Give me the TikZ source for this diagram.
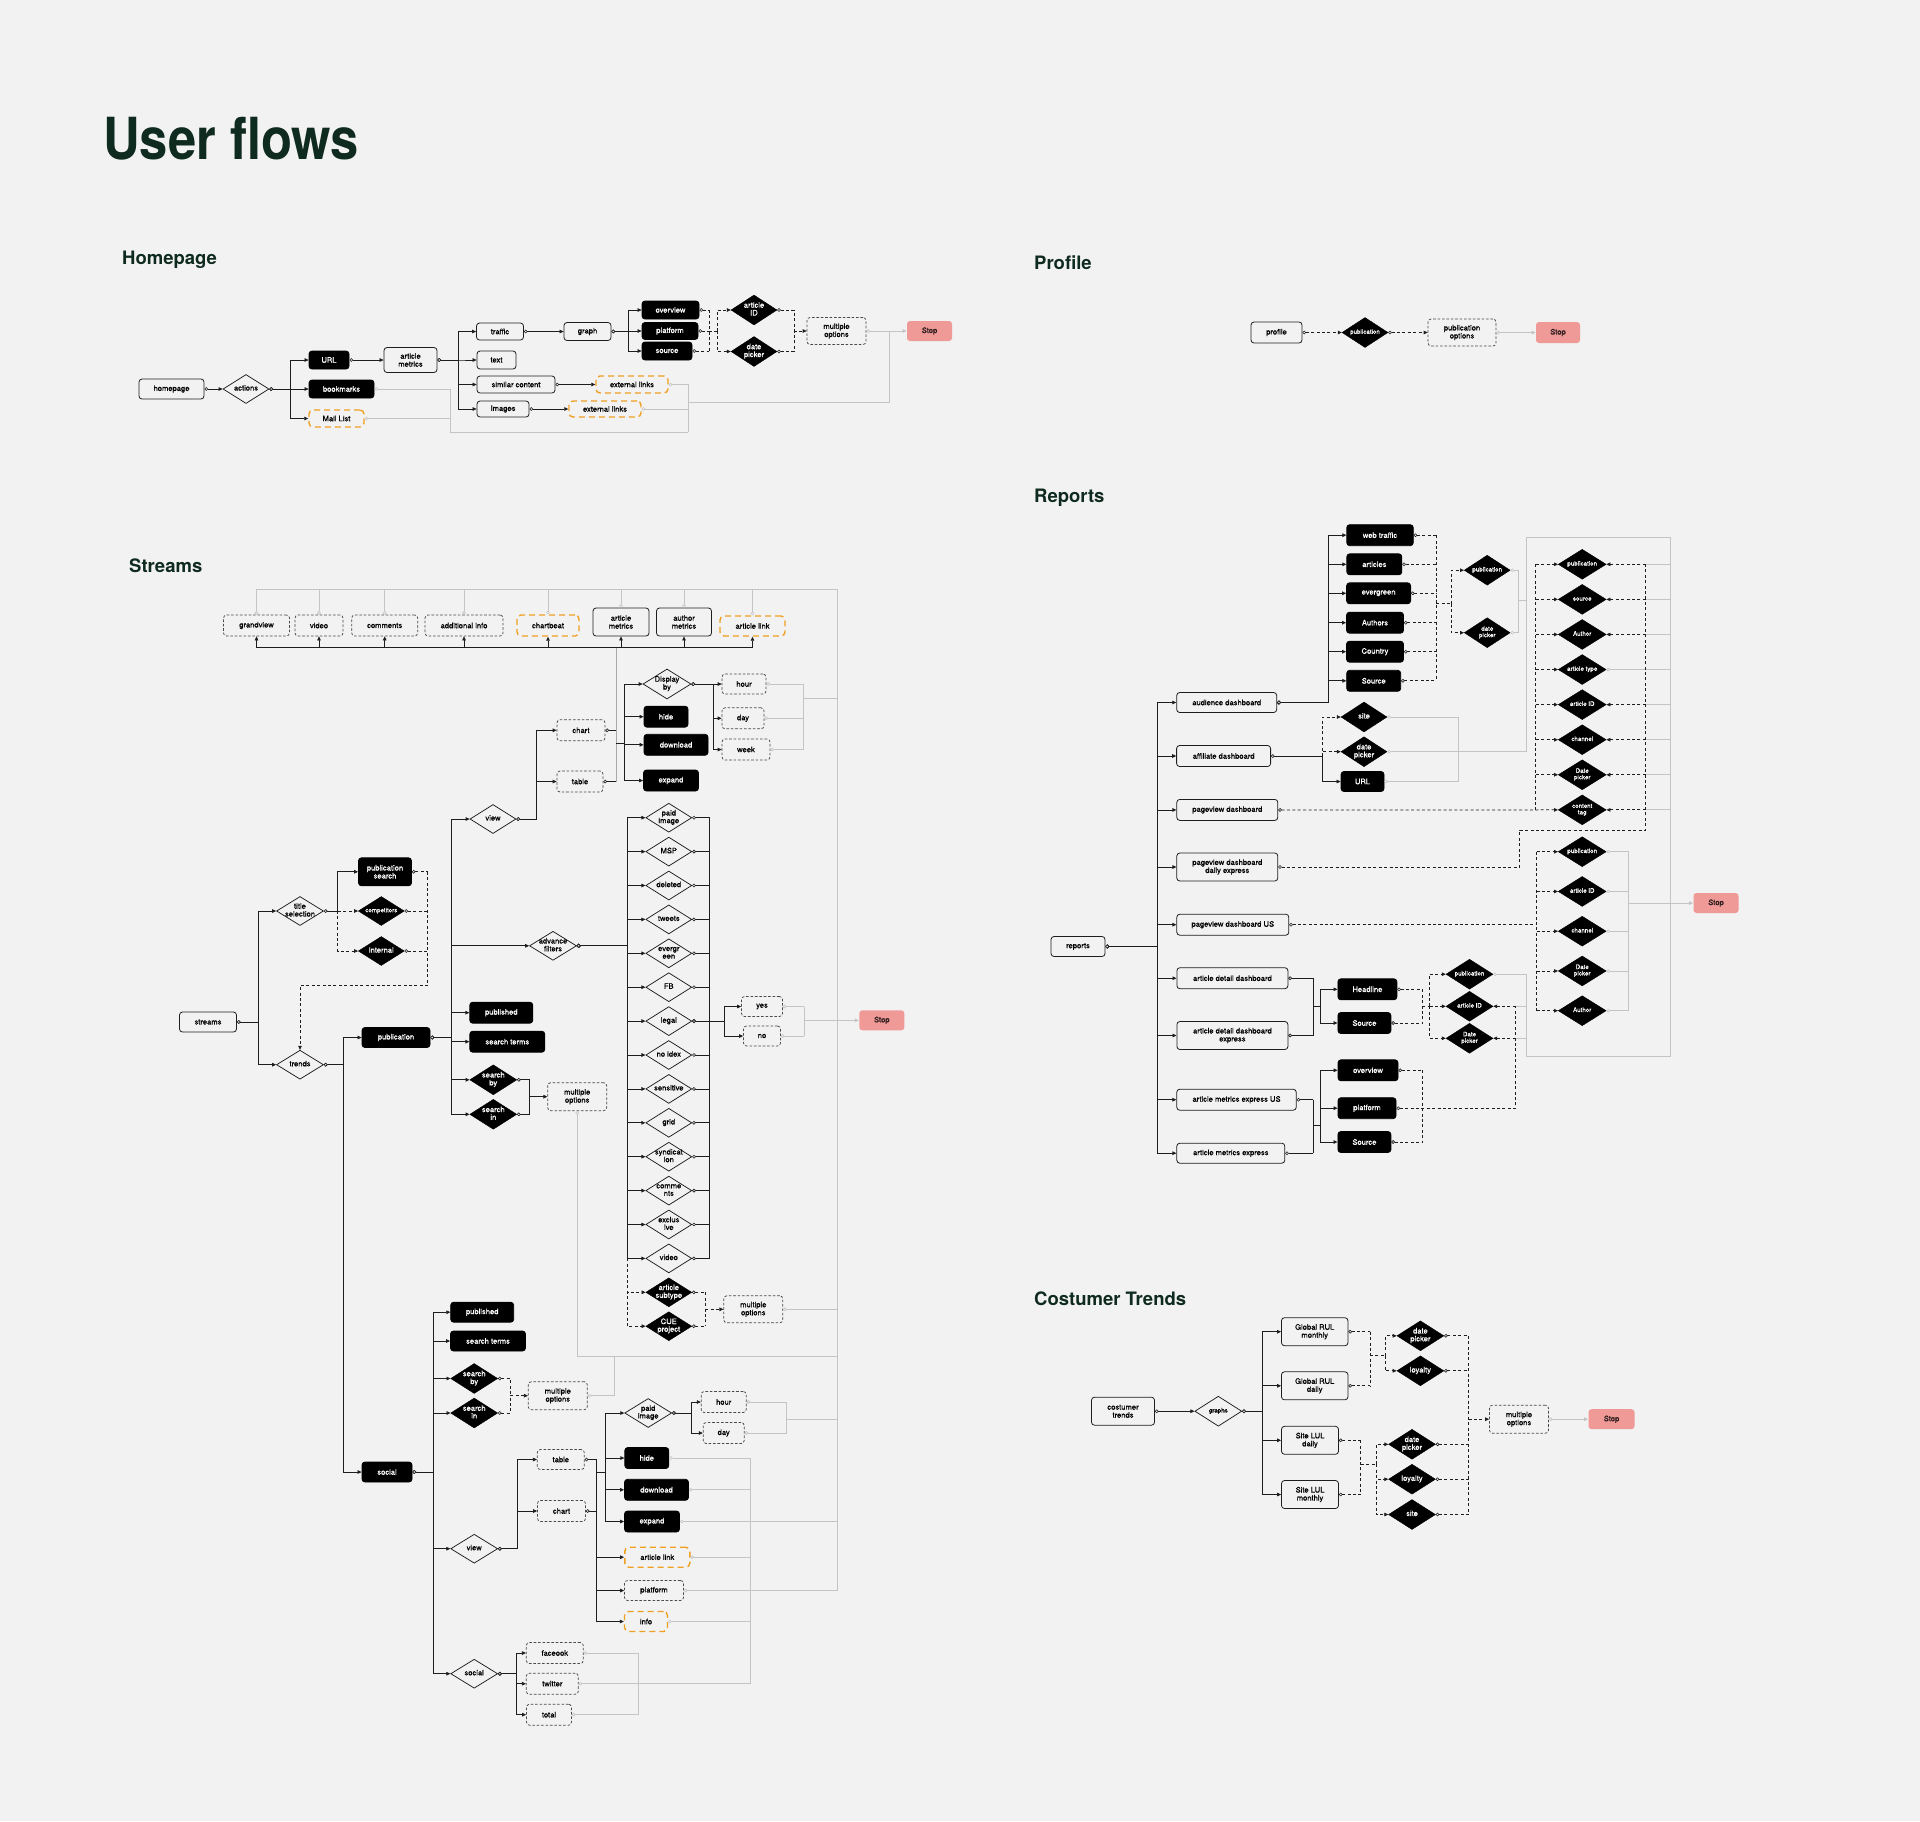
\documentclass[tikz,border=0pt]{standalone}
\usepackage{fontspec}
\setmainfont{TeX Gyre Heros}
\newfontfamily\nodefam{TeX Gyre Heros}[FakeBold=0.5]
\usepackage{graphicx}
\usetikzlibrary{arrows.meta,shapes.geometric}
\definecolor{bg}{HTML}{F2F2F2}
\definecolor{lk}{HTML}{1E1E1E}
\definecolor{gr}{HTML}{C4C4C4}
\definecolor{midg}{HTML}{A8A8A8}
\definecolor{dbd}{HTML}{4A4A4A}
\definecolor{org}{HTML}{F0A020}
\definecolor{stopc}{HTML}{F09A98}
\definecolor{stoptx}{HTML}{2A1A1A}
\definecolor{ttl}{HTML}{0F2A1F}
\newcommand\fn{\nodefam\fontsize{7.6}{8}\selectfont}
\newcommand\fsm{\nodefam\fontsize{6.2}{6.8}\selectfont}
\newcommand\dt[1]{\makebox[0pt]{\begin{tabular}{@{}c@{}}#1\end{tabular}}}
\renewcommand\arraystretch{0.95}
\tikzset{
  base/.style={rounded corners=3pt, inner sep=0.5pt, align=center, font=\fn, line width=0.8pt},
  wbox/.style={base, draw=lk, fill=bg},
  bbox/.style={base, draw=black, fill=black, text=white},
  dbox/.style={base, draw=dbd, fill=bg, line width=0.75pt, dash pattern=on 2.6pt off 1.8pt},
  obox/.style={base, draw=org, fill=bg, line width=1.4pt, dash pattern=on 6pt off 4pt, rounded corners=4pt},
  stopbox/.style={base, draw=none, fill=stopc, text=stoptx, minimum width=45pt, minimum height=20pt},
  wdia/.style={diamond, draw=lk, fill=bg, line width=0.75pt, inner sep=0pt, font=\fn},
  bdia/.style={diamond, draw=black, fill=black, text=white, inner sep=0pt, font=\fn},
  sz/.style 2 args={minimum width=#1pt, minimum height=#2pt},
  dsz/.style={sz={46}{29}},
  ln/.style={draw=lk, line width=0.75pt},
  dl/.style={draw=lk, line width=0.75pt, dash pattern=on 3pt off 2.4pt},
  gl/.style={draw=gr, line width=0.85pt},
  both/.style={{Circle[length=3.6pt,width=3.6pt,line width=0.6pt,fill=bg]}-{Triangle[length=4pt,width=3.6pt]}},
  beg/.style={{Circle[length=3.6pt,width=3.6pt,line width=0.6pt,fill=bg]}-},
  tip/.style={-{Triangle[length=4pt,width=3.6pt]}},
  head/.style={anchor=base west, font=\fontsize{18.5}{20}\selectfont\bfseries, text=ttl, inner sep=0pt},
}
\begin{document}
\begin{tikzpicture}[x=1pt,y=-1pt]
\fill[bg] (0,0) rectangle (1920,1821);
\useasboundingbox (0,0) rectangle (1920,1821);

% ---------- titles
\node[anchor=base west, inner sep=0pt, text=ttl, font=\fontsize{58}{60}\selectfont\bfseries] (title) at (103,159) {\scalebox{0.875}[1]{User flows}};
\node[head] (hHome) at (122,264) {Homepage};
\node[head] (hProf) at (1034,269) {Profile};
\node[head] (hRep) at (1034,502) {Reports};
\node[head] (hStr) at (129,572) {Streams};
\node[head] (hCT) at (1034,1305) {Costumer Trends};

% ================= HOMEPAGE
\node[wbox,sz={65}{20}] (home) at (171.5,389) {homepage};
\node[wdia,dsz] (act) at (246,389) {\dt{actions}};
\node[bbox,sz={40}{18}] (url) at (329,360) {URL};
\node[bbox,sz={65}{18}] (bkm) at (341.5,389) {bookmarks};
\node[obox,sz={55}{17}] (mail) at (336.5,418.5) {Mail List};
\node[wbox,sz={53}{25}] (am) at (410.5,360) {article\\metrics};
\node[wbox,sz={47}{17}] (traf) at (500,331.5) {traffic};
\node[wbox,sz={39}{18}] (txt) at (496.5,360) {text};
\node[wbox,sz={78}{17}] (sim) at (516,384.5) {similar content};
\node[wbox,sz={52}{16}] (img) at (503,409) {Images};
\node[wbox,sz={47}{18}] (graph) at (587.5,331.5) {graph};
\node[bbox,sz={57}{18}] (ov) at (670.5,310) {overview};
\node[bbox,sz={56}{17}] (pf) at (670,331) {platform};
\node[bbox,sz={50}{18}] (src) at (667,351) {source};
\node[bdia,sz={46}{30}] (aid) at (754,310) {\dt{article\\ID}};
\node[bdia,sz={46}{30}] (dp) at (754,351.5) {\dt{date\\picker}};
\node[dbox,sz={59}{27}] (mo) at (836.5,331) {multiple\\options};
\node[stopbox] (stop1) at (929.5,331) {Stop};
\node[obox,sz={72}{17}] (ext1) at (632,384.5) {external links};
\node[obox,sz={72}{16}] (ext2) at (605,409) {external links};

\coordinate (hA) at (290,0);
\coordinate (hB) at (458,0);
\coordinate (hC) at (628,0);
\coordinate (hD) at (709,331);
\coordinate (hE) at (717,331);
\coordinate (hF) at (794,331);
\coordinate (hG) at (688,432);
\coordinate (hH) at (450,432);
\coordinate (hI) at (889,402);

\draw[gl,beg] (ext1.east) -| (hG);
\draw[gl,beg] (ext2.east) -- (ext2.east -| hG);
\draw[gl] (hG) -- (hH);
\draw[gl,beg] (bkm.east) -| (hH);
\draw[gl,beg] (mail.east) -- (mail.east -| hH);
\draw[gl] (hI -| hG) -- (hI) -- (hI |- mo.east);
\draw[gl,both] (mo.east) -- (stop1.west);

\draw[ln,both] (home.east) -- (act.west);
\draw[ln,both] (act.east) -- (act.east -| hA) |- (url.west);
\draw[ln,both] (act.east) -- (bkm.west);
\draw[ln,both] (act.east) -- (act.east -| hA) |- (mail.west);
\draw[ln,both] (url.east) -- (am.west);
\foreach \x in {traf,txt,sim,img} \draw[ln,both] (am.east) -- (am.east -| hB) |- (\x.west);
\draw[ln,both] (traf.east) -- (graph.west);
\foreach \x in {ov,pf,src} \draw[ln,both] (graph.east) -- (graph.east -| hC) |- (\x.west);
\foreach \x in {ov,pf,src} \draw[dl,beg] (\x.east) -- (\x.east -| hD);
\draw[dl] (ov.east -| hD) -- (src.east -| hD);
\draw[dl] (hD) -- (hE);
\foreach \x in {aid,dp} \draw[dl,tip] (hE) |- (\x.west);
\foreach \x in {aid,dp} \draw[dl,beg] (\x.east) -| (hF);
\draw[dl,tip] (hF) -- (mo.west);
\draw[ln,both] (sim.east) -- (ext1.west);
\draw[ln,both] (img.east) -- (ext2.west);

% ================= PROFILE
\node[wbox,sz={51}{21}] (prof) at (1276.5,332.5) {profile};
\node[bdia,sz={46}{30},font=\fsm] (ppub) at (1365,332.5) {\dt{publication}};
\node[dbox,sz={68}{27}] (popt) at (1462,332.5) {publication\\options};
\node[stopbox,sz={44}{21}] (stop2) at (1558,332.5) {Stop};
\draw[dl,both] (prof.east) -- (ppub.west);
\draw[dl,both] (ppub.east) -- (popt.west);
\draw[gl,both] (popt.east) -- (stop2.west);

% ================= STREAMS : top row
\node[dbox,sz={66}{21}] (gv) at (256.5,625.5) {grandview};
\node[dbox,sz={48}{21}] (vid) at (319,625.5) {video};
\node[dbox,sz={66}{21}] (com) at (384.7,625.5) {comments};
\node[dbox,sz={78}{21}] (ai) at (464,625.5) {additional info};
\node[obox,sz={62}{21}] (cb) at (548,625.5) {chartbeat};
\node[wbox,sz={56}{28}] (sam) at (621,622) {article\\metrics};
\node[wbox,sz={55}{28}] (aum) at (684,622) {author\\metrics};
\node[obox,sz={65}{20}] (al) at (752.5,626) {article link};

% chart / table block
\node[dbox,sz={48}{21}] (chart) at (581,730.3) {chart};
\node[dbox,sz={46}{21}] (tab) at (580,781.5) {table};
\node[wdia,dsz] (view1) at (493,819) {\dt{view}};
\node[wdia,sz={48}{30}] (dby) at (667,684) {\dt{Display\\by}};
\node[bbox,sz={44}{21}] (hide1) at (666,716.7) {hide};
\node[bbox,sz={64}{21}] (dl1) at (676,744.8) {download};
\node[bbox,sz={55}{21}] (exp1) at (671,780.5) {expand};
\node[dbox,sz={44}{20}] (hour1) at (744,684) {hour};
\node[dbox,sz={42}{21}] (day1) at (743,718.3) {day};
\node[dbox,sz={48}{21}] (week1) at (746,749.5) {week};

% left part
\node[wbox,sz={57}{20}] (streams) at (208,1022) {streams};
\node[wdia,sz={47}{29}] (tsel) at (300,911) {\dt{title\\selection}};
\node[wdia,sz={47}{29}] (trends) at (300,1064.7) {\dt{trends}};
\node[bbox,sz={53}{28}] (psearch) at (385,871.8) {publication\\search};
\node[bdia,dsz,font=\fsm] (comp) at (381.3,911) {\dt{competitors}};
\node[bdia,dsz] (intl) at (381.3,951) {\dt{internal}};
\node[bbox,sz={68}{20}] (pubs) at (396,1037.5) {publication};
\node[wdia,sz={47}{29}] (af) at (553,945.8) {\dt{advance\\filters}};
\node[bbox,sz={63}{21}] (pub1) at (501.3,1012.7) {published};
\node[bbox,sz={75}{21}] (st1) at (507.3,1041.7) {search terms};
\node[bdia,sz={47}{30}] (sby1) at (493.3,1079.8) {\dt{search\\by}};
\node[bdia,sz={47}{30}] (sin1) at (493.3,1114.3) {\dt{search\\in}};
\node[dbox,sz={59}{28}] (mo2) at (577.2,1096.7) {multiple\\options};

% filter column
\foreach \lab [count=\i from 0] in {{paid\\image},MSP,deleted,tweets,{evergr\\een},FB,legal,{no idex},sensitive,grid,{syndicat\\ion},{comme\\nts},{exclus\\ive},video}
  \node[wdia,dsz] (f\i) at (668.8,817.7+33.9*\i) {\dt{\lab}};
\node[bdia,dsz] (f14) at (668.8,1292.3) {\dt{article\\subtype}};
\node[bdia,dsz] (f15) at (668.8,1326.2) {\dt{CUE\\project}};
\node[dbox,sz={59}{27}] (mo3) at (753.3,1309.3) {multiple\\options};
\node[dbox,sz={41}{20}] (yes) at (762,1006.5) {yes};
\node[dbox,sz={37}{20}] (no) at (762,1036) {no};
\node[stopbox] (stop3) at (881.8,1020.3) {Stop};

% social part
\node[bbox,sz={50}{20}] (soc) at (387,1472) {social};
\node[bbox,sz={63}{20}] (pub2) at (482.2,1312.2) {published};
\node[bbox,sz={75}{20}] (st2) at (488,1341) {search terms};
\node[bdia,sz={47}{30}] (sby2) at (474.2,1378.5) {\dt{search\\by}};
\node[bdia,sz={47}{30}] (sin2) at (474.2,1413) {\dt{search\\in}};
\node[dbox,sz={59}{28}] (mo4) at (557.8,1395.7) {multiple\\options};
\node[wdia,sz={47}{29}] (view2) at (474.2,1548.7) {\dt{view}};
\node[wdia,sz={47}{29}] (socd) at (474.2,1673.7) {\dt{social}};
\node[dbox,sz={47}{20}] (tab2) at (560.8,1459.5) {table};
\node[dbox,sz={48}{21}] (chart2) at (561.5,1511) {chart};
\node[wdia,sz={47}{29}] (pi2) at (648.2,1413) {\dt{paid\\image}};
\node[dbox,sz={45}{21}] (hour2) at (723.7,1402) {hour};
\node[dbox,sz={41}{21}] (day2) at (723.7,1433) {day};
\node[bbox,sz={44}{21}] (hide2) at (646.8,1458) {hide};
\node[bbox,sz={64}{21}] (dl2) at (656.5,1489.8) {download};
\node[bbox,sz={55}{21}] (exp2) at (652,1521.5) {expand};
\node[obox,sz={65}{20}] (al2) at (657.3,1557.2) {article link};
\node[dbox,sz={59}{20}] (pf2) at (654,1590.5) {platform};
\node[obox,sz={43}{20}] (info) at (646,1621.5) {info};
\node[dbox,sz={57}{21}] (fb) at (554.8,1653) {faceook};
\node[dbox,sz={52}{21}] (tw) at (552.3,1683.7) {twitter};
\node[dbox,sz={45}{21}] (tot) at (549,1714.7) {total};

% streams coordinates
\coordinate (gT) at (0,589.3);
\coordinate (gR) at (837,589.3);
\coordinate (gS) at (0,1356.3);
\coordinate (sB) at (616,647.7);
\coordinate (sJ) at (616,743.7);
\coordinate (sK) at (624,743.7);
\coordinate (sV) at (536.7,0);
\coordinate (sD) at (713,0);
\coordinate (sG) at (803,698);
\coordinate (lA) at (258.3,0);
\coordinate (lB) at (337.7,0);
\coordinate (lC) at (427.7,985.7);
\coordinate (lD) at (343.7,0);
\coordinate (lE) at (451,0);
\coordinate (lF) at (529.7,1096.7);
\coordinate (fL) at (627,0);
\coordinate (fR) at (709.7,0);
\coordinate (fY) at (724,0);
\coordinate (fM) at (705.3,0);
\coordinate (fG) at (804.3,0);
\coordinate (oA) at (433.3,0);
\coordinate (oB) at (510.3,1395.7);
\coordinate (oC) at (614.3,0);
\coordinate (oD) at (517.3,0);
\coordinate (oE) at (596.7,1472.7);
\coordinate (oF) at (605.3,1472.7);
\coordinate (oG) at (691,0);
\coordinate (oH) at (786.7,1419.7);
\coordinate (oI) at (750.3,0);
\coordinate (oJ) at (516.7,0);
\coordinate (oK) at (638,0);

% gray lines streams
\foreach \x in {gv,vid,com,ai,cb,sam,aum,al} \draw[gl,beg] (\x.north) -- (\x.north |- gT);
\draw[gl] (gv.north |- gT) -- (gR) -- (gR |- pf2.east);
\foreach \x in {hour1,day1,week1} \draw[gl,beg] (\x.east) -- (\x.east -| sG);
\draw[gl] (hour1.east -| sG) -- (week1.east -| sG);
\draw[gl] (sG) -- (sG -| gR);
\draw[gl,beg] (mo2.south) -- (mo2.south |- gS) -- (gS -| gR);
\draw[gl,beg] (mo3.east) -- (mo3.east -| gR);
\foreach \x in {yes,no} \draw[gl,beg] (\x.east) -- (\x.east -| fG);
\draw[gl] (yes.east -| fG) -- (no.east -| fG);
\draw[gl,tip] (stop3.west -| fG) -- (stop3.west);
\draw[gl,beg] (mo4.east) -- (mo4.east -| oC) -- (oC |- gS);
\foreach \x in {hour2,day2} \draw[gl,beg] (\x.east) -- (\x.east -| oH);
\draw[gl] (hour2.east -| oH) -- (day2.east -| oH);
\draw[gl] (oH) -- (oH -| gR);
\foreach \x in {hide2,dl2,al2,info,tw} \draw[gl,beg] (\x.east) -- (\x.east -| oI);
\draw[gl] (hide2.east -| oI) -- (tw.east -| oI);
\draw[gl,beg] (exp2.east) -- (exp2.east -| gR);
\draw[gl,beg] (pf2.east) -- (pf2.east -| gR);
\foreach \x in {fb,tot} \draw[gl,beg] (\x.east) -- (\x.east -| oK);
\draw[gl] (fb.east -| oK) -- (tot.east -| oK);

% black lines streams
\foreach \x in {gv,vid,com,ai,cb,sam,aum,al} \draw[ln,tip] (sB) -| (\x.south);
\draw[ln,beg] (chart.east) -- (chart.east -| sB);
\draw[ln,beg] (tab.east) -- (tab.east -| sB);
\draw[draw=midg,line width=0.75pt] (tab.east -| sB) -- (sB);
\draw[ln] (sJ) -- (sK);
\foreach \x in {dby,hide1,dl1,exp1} \draw[ln,tip] (sK) |- (\x.west);
\foreach \x in {chart,tab} \draw[ln,both] (view1.east) -- (view1.east -| sV) |- (\x.west);
\foreach \x in {hour1,day1,week1} \draw[ln,both] (dby.east) -- (dby.east -| sD) |- (\x.west);

\foreach \x in {tsel,trends} \draw[ln,both] (streams.east) -- (streams.east -| lA) |- (\x.west);
\draw[ln,both] (tsel.east) -- (tsel.east -| lB) |- (psearch.west);
\draw[dl,tip] (tsel.east -| lB) -- (comp.west);
\draw[dl,tip] (tsel.east -| lB) |- (intl.west);
\foreach \x in {psearch,comp,intl} \draw[dl,beg] (\x.east) -- (\x.east -| lC);
\draw[dl,tip] (psearch.east -| lC) -- (lC) -| (trends.north);
\draw[ln,both] (trends.east) -- (trends.east -| lD) |- (pubs.west);
\draw[ln,both] (trends.east) -- (trends.east -| lD) |- (soc.west);
\foreach \x in {view1,af,pub1,st1,sby1,sin1} \draw[ln,both] (pubs.east) -- (pubs.east -| lE) |- (\x.west);
\foreach \x in {sby1,sin1} \draw[ln,beg] (\x.east) -| (lF);
\draw[ln,tip] (lF) -- (mo2.west);

\foreach \i in {0,...,13} {
  \draw[ln,both] (af.east) -- (af.east -| fL) |- (f\i.west);
  \draw[ln,beg] (f\i.east) -- (f\i.east -| fR);
}
\draw[ln] (f0.east -| fR) -- (f13.east -| fR);
\draw[dl,tip] (f13.west -| fL) |- (f14.west);
\draw[dl,tip] (f13.west -| fL) |- (f15.west);
\foreach \x in {f14,f15} \draw[dl,beg] (\x.east) -- (\x.east -| fM);
\draw[dl] (f14.east -| fM) -- (f15.east -| fM);
\draw[dl,tip] (mo3.west -| fM) -- (mo3.west);
\draw[ln,both] (f6.east) -- (f6.east -| fY) |- (yes.west);
\draw[ln,both] (f6.east) -- (f6.east -| fY) |- (no.west);

\foreach \x in {pub2,st2,sby2,sin2,view2,socd} \draw[ln,both] (soc.east) -- (soc.east -| oA) |- (\x.west);
\foreach \x in {sby2,sin2} \draw[dl,beg] (\x.east) -| (oB);
\draw[dl,tip] (oB) -- (mo4.west);
\foreach \x in {tab2,chart2} \draw[ln,both] (view2.east) -- (view2.east -| oD) |- (\x.west);
\foreach \x in {tab2,chart2} \draw[ln,beg] (\x.east) -- (\x.east -| oE);
\draw[ln] (tab2.east -| oE) -- (info.west -| oE);
\draw[ln] (oE) -- (oF);
\foreach \x in {pi2,hide2,dl2,exp2} \draw[ln,tip] (oF) |- (\x.west);
\foreach \x in {al2,pf2,info} \draw[ln,tip] (oE) |- (\x.west);
\foreach \x in {hour2,day2} \draw[ln,both] (pi2.east) -- (pi2.east -| oG) |- (\x.west);
\foreach \x in {fb,tw,tot} \draw[ln,both] (socd.east) -- (socd.east -| oJ) |- (\x.west);

% ================= REPORTS
\node[wbox,sz={54}{20}] (rep) at (1078,946.5) {reports};
\node[wbox,sz={100}{20}] (aud) at (1226.7,702.5) {audience dashboard};
\node[wbox,sz={94}{21}] (aff) at (1223.6,756) {affiliate dashboard};
\node[wbox,sz={101}{21}] (pvd) at (1227.3,809.9) {pageview dashboard};
\node[wbox,sz={101}{28}] (pvde) at (1227.3,867) {pageview dashboard\\daily express};
\node[wbox,sz={112}{21}] (pvus) at (1232.8,924.7) {pageview dashboard US};
\node[wbox,sz={111}{21}] (add) at (1232.4,978.2) {article detail dashboard};
\node[wbox,sz={111}{28}] (adde) at (1232.4,1035.5) {article detail dashboard\\express};
\node[wbox,sz={119.5}{21}] (ameu) at (1236.5,1099.7) {article metrics express US};
\node[wbox,sz={108}{20}] (ame) at (1230.8,1153.2) {article metrics express};

\node[bbox,sz={66.5}{21}] (wt) at (1380,535.2) {web traffic};
\node[bbox,sz={55}{21}] (arts) at (1374.3,564.3) {articles};
\node[bbox,sz={64}{21}] (evg) at (1378.6,593.3) {evergreen};
\node[bbox,sz={57}{21}] (auth) at (1375,622.7) {Authors};
\node[bbox,sz={57}{21}] (ctry) at (1375,651.7) {Country};
\node[bbox,sz={54}{21}] (srcr) at (1373.7,680.8) {Source};
\node[bdia,sz={46}{30},font=\fsm] (rpub) at (1487.2,570.2) {\dt{publication}};
\node[bdia,sz={46}{30},font=\fsm] (rdp) at (1487.2,632.7) {\dt{date\\picker}};

\node[bdia,sz={46}{30}] (site) at (1364,717) {\dt{site}};
\node[bdia,sz={46}{30}] (adp) at (1364,751.7) {\dt{date\\picker}};
\node[bbox,sz={43}{20}] (rurl) at (1362.5,781.5) {URL};

\foreach \lab [count=\i from 0] in {publication,source,Author,{article type},{article ID},channel,{Date\\picker},{content\\tag}}
  \node[bdia,sz={48}{30},font=\fsm] (u\i) at (1582.2,564.3+35.08*\i) {\dt{\lab}};
\foreach \lab [count=\i from 0] in {publication,{article ID},channel,{Date\\picker},Author}
  \node[bdia,sz={48}{30},font=\fsm] (l\i) at (1582.2,851.7+39.75*\i) {\dt{\lab}};
\node[stopbox] (stop4) at (1716,903) {Stop};

\node[bbox,sz={59}{21}] (hl) at (1367.4,989.3) {Headline};
\node[bbox,sz={53}{21}] (asrc) at (1364.4,1023) {Source};
\node[bdia,sz={47}{30},font=\fsm] (apub) at (1469.5,974.2) {\dt{publication}};
\node[bdia,sz={47}{30},font=\fsm] (aaid) at (1469.5,1006.3) {\dt{article ID}};
\node[bdia,sz={47}{30},font=\fsm] (adpk) at (1469.5,1038.3) {\dt{Date\\picker}};
\node[bbox,sz={60}{21}] (ov3) at (1368,1070.3) {overview};
\node[bbox,sz={58}{21}] (pf3) at (1367,1108.2) {platform};
\node[bbox,sz={53}{21}] (src3) at (1364.4,1142) {Source};

\coordinate (rA) at (1157.5,0);
\coordinate (rB) at (1328.5,0);
\coordinate (rC) at (1436.2,603.7);
\coordinate (rD) at (1451.3,603.7);
\coordinate (rE) at (1518.6,600.3);
\coordinate (rF) at (1526.5,600.3);
\coordinate (rX) at (1670.4,537.3);
\coordinate (rY) at (1670.4,1056.6);
\coordinate (rZ) at (1526.5,1056.6);
\coordinate (rG) at (1322.3,0);
\coordinate (rH) at (1458.2,0);
\coordinate (rU) at (1535.7,0);
\coordinate (rV) at (1645.7,829.9);
\coordinate (rW) at (1519.8,829.9);
\coordinate (rL) at (1536.5,0);
\coordinate (rM) at (1628.7,903);
\coordinate (rN) at (1313,1006.7);
\coordinate (rO) at (1320.3,1006.7);
\coordinate (rP) at (1422.3,1006.3);
\coordinate (rQ) at (1429.6,1006.3);
\coordinate (rS) at (1515.7,0);
\coordinate (rN2) at (1313,1125.7);
\coordinate (rO2) at (1320.3,1125.7);

% gray reports
\foreach \x in {rpub,rdp} \draw[gl,beg] (\x.east) -- (\x.east -| rE);
\draw[gl] (rpub.east -| rE) -- (rdp.east -| rE);
\draw[gl] (rE) -- (rF);
\draw[gl] (apub.east -| rF) -- (rZ) -- (rY) -- (rX) -- (rF |- rX) -- (adp.east -| rF);
\draw[gl,beg] (adp.east) -- (adp.east -| rF);
\foreach \x in {site,rurl} \draw[gl,beg] (\x.east) -- (\x.east -| rH);
\draw[gl] (site.east -| rH) -- (rurl.east -| rH);
\foreach \i in {0,1,2,4,5,6,7} \draw[gl] (u\i.east -| rV) -- (u\i.east -| rX);
\draw[gl,beg] (u3.east) -- (u3.east -| rX);
\foreach \i in {0,...,4} \draw[gl,beg] (l\i.east) -- (l\i.east -| rM);
\draw[gl] (l0.east -| rM) -- (l4.east -| rM);
\draw[gl,tip] (rM) -- (stop4.west);
\draw[gl,beg] (apub.east) -- (apub.east -| rF);
\foreach \x in {aaid,adpk} \draw[gl] (\x.east -| rS) -- (\x.east -| rF);

% black reports
\foreach \x in {aud,aff,pvd,pvde,pvus,add,adde,ameu,ame} \draw[ln,both] (rep.east) -- (rep.east -| rA) |- (\x.west);
\foreach \x in {wt,arts,evg,auth,ctry,srcr} \draw[ln,both] (aud.east) -- (aud.east -| rB) |- (\x.west);
\foreach \x in {wt,arts,evg,auth,ctry,srcr} \draw[dl,beg] (\x.east) -- (\x.east -| rC);
\draw[dl] (wt.east -| rC) -- (srcr.east -| rC);
\draw[dl] (rC) -- (rD);
\foreach \x in {rpub,rdp} \draw[dl,tip] (rD) |- (\x.west);
\draw[ln,both] (aff.east) -- (aff.east -| rG) |- (rurl.west);
\foreach \x in {site,adp} \draw[dl,tip] (aff.east -| rG) |- (\x.west);

\draw[dl,both] (pvd.east) -- (u7.west);
\draw[dl] (u0.west -| rU) -- (u7.west -| rU);
\foreach \i in {0,...,6} \draw[dl,tip] (u\i.west -| rU) -- (u\i.west);
\draw[dl,beg] (pvde.east) -- (pvde.east -| rW) -- (rW) -- (rV) -- (rV |- u0.east);
\foreach \i in {0,1,2,4,5,6,7} \draw[dl,tip] (u\i.east -| rV) -- (u\i.east);

\draw[dl,beg] (pvus.east) -- (pvus.east -| rL);
\draw[dl] (l0.west -| rL) -- (l4.west -| rL);
\foreach \i in {0,...,4} \draw[dl,tip] (l\i.west -| rL) -- (l\i.west);

\foreach \x in {add,adde} \draw[ln,beg] (\x.east) -- (\x.east -| rN);
\draw[ln] (add.east -| rN) -- (adde.east -| rN);
\draw[ln] (rN) -- (rO);
\foreach \x in {hl,asrc} \draw[ln,tip] (rO) |- (\x.west);
\foreach \x in {hl,asrc} \draw[dl,beg] (\x.east) -- (\x.east -| rP);
\draw[dl] (hl.east -| rP) -- (asrc.east -| rP);
\draw[dl] (rP) -- (rQ);
\foreach \x in {apub,aaid,adpk} \draw[dl,tip] (rQ) |- (\x.west);

\foreach \x in {ameu,ame} \draw[ln,beg] (\x.east) -- (\x.east -| rN2);
\draw[ln] (ameu.east -| rN2) -- (ame.east -| rN2);
\draw[ln] (rN2) -- (rO2);
\foreach \x in {ov3,pf3,src3} \draw[ln,tip] (rO2) |- (\x.west);
\foreach \x in {ov3,src3} \draw[dl,beg] (\x.east) -- (\x.east -| rP);
\draw[dl] (ov3.east -| rP) -- (src3.east -| rP);
\draw[dl,beg] (pf3.east) -- (pf3.east -| rS) -- (aaid.east -| rS);
\foreach \x in {aaid,adpk} \draw[dl,tip] (\x.east -| rS) -- (\x.east);

% ================= COSTUMER TRENDS
\node[wbox,sz={63}{28}] (ct) at (1123,1411.2) {costumer\\trends};
\node[wdia,sz={47}{30},font=\fsm] (gph) at (1218.3,1411.2) {\dt{graphs}};
\node[wbox,sz={66.5}{28}] (grm) at (1314.7,1331.7) {Global RUL\\monthly};
\node[wbox,sz={66.5}{28}] (grd) at (1314.7,1385.8) {Global RUL\\daily};
\node[wbox,sz={57}{28}] (sld) at (1310,1440.3) {Site LUL\\daily};
\node[wbox,sz={57}{28}] (slm) at (1310,1494.5) {Site LUL\\monthly};
\node[bdia,sz={47}{30}] (cdp1) at (1420.4,1335.8) {\dt{date\\picker}};
\node[bdia,sz={47}{30}] (cly1) at (1420.4,1370.8) {\dt{loyalty}};
\node[bdia,sz={47}{30}] (cdp2) at (1412,1444.3) {\dt{date\\picker}};
\node[bdia,sz={47}{30}] (cly2) at (1412,1479.2) {\dt{loyalty}};
\node[bdia,sz={47}{30}] (csite) at (1412,1514.5) {\dt{site}};
\node[dbox,sz={59}{28}] (mo5) at (1519,1419.2) {multiple\\options};
\node[stopbox,sz={46}{20}] (stop5) at (1611.5,1419.2) {Stop};

\coordinate (cA) at (1262.5,0);
\coordinate (cB) at (1370,1355.7);
\coordinate (cC) at (1385.1,1355.7);
\coordinate (cD) at (1360.7,1464.3);
\coordinate (cE) at (1376.2,1464.3);
\coordinate (cF) at (1468.5,0);

\draw[gl,both] (mo5.east) -- (stop5.west);
\draw[ln,both] (ct.east) -- (gph.west);
\foreach \x in {grm,grd,sld,slm} \draw[ln,both] (gph.east) -- (gph.east -| cA) |- (\x.west);
\foreach \x in {grm,grd} \draw[dl,beg] (\x.east) -- (\x.east -| cB);
\draw[dl] (grm.east -| cB) -- (grd.east -| cB);
\draw[dl] (cB) -- (cC);
\foreach \x in {cdp1,cly1} \draw[dl,tip] (cC) |- (\x.west);
\foreach \x in {sld,slm} \draw[dl,beg] (\x.east) -- (\x.east -| cD);
\draw[dl] (sld.east -| cD) -- (slm.east -| cD);
\draw[dl] (cD) -- (cE);
\foreach \x in {cdp2,cly2,csite} \draw[dl,tip] (cE) |- (\x.west);
\foreach \x in {cdp1,cly1,cdp2,cly2,csite} \draw[dl,beg] (\x.east) -- (\x.east -| cF);
\draw[dl] (cdp1.east -| cF) -- (csite.east -| cF);
\draw[dl,tip] (mo5.west -| cF) -- (mo5.west);
\end{tikzpicture}
\end{document}
